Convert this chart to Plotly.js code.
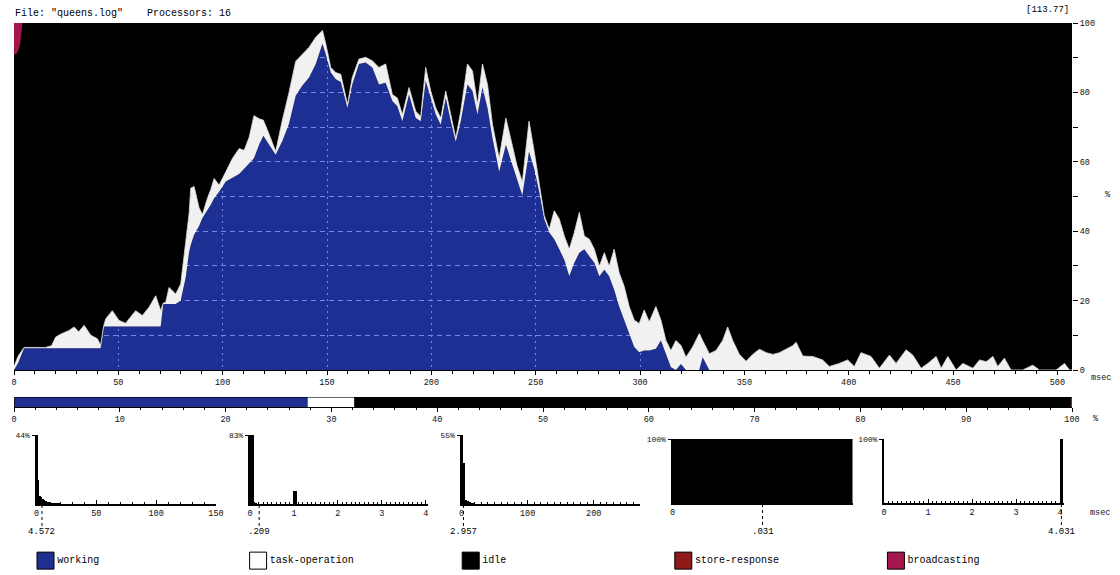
<!DOCTYPE html>
<html><head><meta charset="utf-8">
<script src="https://cdn.plot.ly/plotly-3.0.1.min.js"></script>
<style>html,body{margin:0;padding:0;background:#fff;}#chart{width:1120px;height:575px;}</style>
</head><body><div id="chart"></div>
<script>
// ---- main utilisation profile (msec, % of 16 processors) ----
const timeMs = [0,2,4.8,10,15,18,20,23,26.4,28.8,31,33.6,36.8,40,41.5,43,44,47.1,50.3,53.5,58.3,61.5,64.7,67.9,70.3,71.5,72.7,74.3,77.5,79.9,82.3,83.9,84.7,86.3,88.7,90.3,92.7,94.3,95.9,98.3,101.5,104.7,107.9,110.3,112.7,115,117.5,119.5,122.2,125.4,128.6,131.8,135,138.2,141.4,144.6,147.8,149.4,151.8,154.2,156.6,159.8,162.1,165.3,168.5,171.7,174.9,178.1,181.3,183.7,186.1,189.3,192.5,194.9,197.3,199.7,202.1,204.5,206.9,209.3,211.7,214.1,217.3,219.7,222.1,224.5,226.9,229.3,232.5,235.7,238.9,241,243.6,246.8,249.3,251.7,254.1,256.5,258.9,261.3,263.7,266.1,268.5,270.9,273.3,275.7,278.1,280.5,282.9,285.2,287.6,290,292.4,294.8,297.2,299.6,302,304.4,307.6,310,312.4,314.8,317.2,319.6,322,325.2,328.4,330,333.2,336.4,339.6,342,344.4,347.6,350.8,354,357.2,360.5,363.7,366.8,370,373.1,374.8,378,382.8,387.5,390.7,395.5,399.5,402.7,405.9,410.7,414.7,419.5,422.7,427.5,430.7,434.7,437.9,441.9,444.3,447.5,451.5,454.7,459.5,462.7,465.9,469.1,471.4,474.6,477.8,483.4,488.2,491.4,499.4,503.4,505.8,507];
const workingPct = [0,2,6.25,6.25,6.25,6.25,6.25,6.25,6.25,6.25,6.25,6.25,6.25,6.25,6.25,12.5,12.5,12.5,12.5,12.5,12.5,12.5,12.5,12.5,12.5,19,19,19,19,20,26.7,34,36,39,41.5,43.8,46,47.6,49.5,51.4,54.3,55.5,56.5,58,59.5,61,65,67.5,65,62,66,71,79,82,84.3,88.2,94,91,85.7,83.8,83,75.5,82.3,88.2,88.6,87.2,82.3,82.8,77.5,76,71.7,79.4,72.6,71.7,83.3,78.4,73.6,70.7,78.4,71.7,65.8,71.7,82.3,80.4,73.6,81.4,75.5,66.8,57.1,64.9,59,55,50.3,62.9,58,51.3,43.5,39.6,37.7,34.8,31.8,27,30.9,33.8,34.8,32.8,30.9,27,28.9,27,23.1,18.3,14.4,10.5,6.6,5.1,5.6,5.6,6.1,8.5,4.7,0.8,0,1.7,0,0,0,3.7,0,0,0,0,0,0,0,0,0,0,0,0,0,0,0,0,0,0,0,0,0,0,0,0,0,0,0,0,0,0,0,0,0,0,0,0,0,0,0,0,0,0,0,0,0,0,0,0,0,0];
const taskOpPct = [1,2,0.25,0.25,0.25,0.75,3.25,4.25,5.15,6.15,4.75,6.65,3.75,2.75,0.85,0.3,2.3,4.6,1.8,1,4.6,3.2,5.6,8.9,4.6,0.3,0.5,4.8,2.9,4.8,9.5,11,16.4,13.9,5.2,1,3.5,4.4,5.7,1.9,2.8,5.5,7.3,5.3,7.6,12.3,7.4,4.5,3,1,6,9,10,9,8.7,7.7,3.9,3,1.5,1.9,2.2,1,2,1.4,1.5,1.9,4.9,5.4,1.9,2.4,1.9,2,2,1.4,3.9,2,1.9,1.9,2,1.9,1,2.9,5.9,5.8,2.9,6.8,6.8,3.9,3.9,7.7,5.9,4,3.9,8.8,4.9,1.9,1,1,8.2,8.7,6.8,7.8,8.7,11.6,3.8,4.9,3.9,2.9,4.9,2.9,11.7,9.7,9.7,7.8,7.8,8.3,11.7,8.3,12.2,5.9,3.8,4.8,8.5,5.4,3.7,6.6,10.5,4.8,4.7,5.6,8.5,12.4,8.5,4.5,2.5,4.5,6,5,4.5,5,6,7,8,4,3.9,2.9,1,1.9,2.9,1,5,3.9,0.5,4.3,1.9,5.8,4.3,0.5,1.9,3.9,0.5,3.9,0,1.9,0.5,2.9,2.4,3.9,1,3.4,0,0,1.4,0,0,1.9,0,0];
const broadcastTimeMs = [0, 1, 2, 3, 4];
const broadcastPct = [9, 9, 8, 6, 0];

// ---- categories / overall share ----
const categories = ['working','task-operation','idle','store-response','broadcasting'];
const categoryColors = ['#1e2f91','#ffffff','#000000','#8e1a1a','#a3174c'];
const overallPct = [27.7, 4.5, 67.6, 0.1, 0.1];

// ---- duration histograms (msec bins, % of occurrences) ----
const histWorkingX = [0.6,1.8,3.0,4.2,5.4,6.6,7.8,9.0,10.2,11.4,12.6,13.8,15,16.2,17.4,18.6,19.8,21];
const histWorkingY = [44,15,5,4.5,3.5,2.5,2,1.5,1.2,1,0.8,0.7,0.6,0.5,0.5,0.4,0.4,0.3];
const histTaskX = [0.04,0.12,1.02,1.1];
const histTaskY = [83,1,16,0.5];
const histIdleX = [1.5,4.5,7.5,10.5,13.5,16.5,19.5];
const histIdleY = [55,33,3,2.5,1.5,1,0.5];
const histStoreX = [0.031];
const histStoreY = [100];
const histBcastX = [4.031];
const histBcastY = [100];
const histPeakLabels = [44, 83, 55, 100, 100];
const histMeanMs = [4.572, 0.209, 2.957, 0.031, 4.031];
const histTickVals = [[0,50,100,150],[0,1,2,3,4],[0,100,200],[0],[0,1,2,3,4]];

const mono = 'Liberation Mono, Courier New, monospace';
const W = 1120, H = 575;
const px = v => v / W;
const py = v => 1 - v / H;

const traces = [];
// main chart
traces.push({type:'scatter', mode:'lines', x:timeMs, y:workingPct, fill:'tozeroy',
  fillcolor:'rgba(46,71,225,0.66)', line:{width:0, color:'rgba(0,0,0,0)'}, xaxis:'x', yaxis:'y', hoverinfo:'skip'});
traces.push({type:'scatter', mode:'lines', x:timeMs, y:workingPct.map((w,i)=>w+taskOpPct[i]), fill:'tonexty',
  fillcolor:'#f1f1f1', line:{width:0.8, color:'#f1f1f1'}, xaxis:'x', yaxis:'y', hoverinfo:'skip'});
traces.push({type:'scatter', mode:'lines', x:timeMs, y:timeMs.map(()=>100), fill:'tonexty',
  fillcolor:'#000000', line:{width:0, color:'rgba(0,0,0,0)'}, xaxis:'x', yaxis:'y', hoverinfo:'skip'});
traces.push({type:'scatter', mode:'lines', x:broadcastTimeMs, y:broadcastPct.map(p=>100-p),
  line:{width:0, color:'rgba(0,0,0,0)'}, xaxis:'x', yaxis:'y', hoverinfo:'skip'});
traces.push({type:'scatter', mode:'lines', x:broadcastTimeMs, y:broadcastTimeMs.map(()=>100), fill:'tonexty',
  fillcolor:categoryColors[4], line:{width:0, color:'rgba(0,0,0,0)'}, xaxis:'x', yaxis:'y', hoverinfo:'skip'});

// overall percentage bar
categories.forEach((c,i)=>{
  traces.push({type:'bar', orientation:'h', y:[0], x:[overallPct[i]], width:1,
    marker:{color:categoryColors[i], line:{color:'#000', width:0.6}}, xaxis:'x2', yaxis:'y2', hoverinfo:'skip'});
});

// histograms
const histX = [histWorkingX, histTaskX, histIdleX, histStoreX, histBcastX];
const histY = [histWorkingY, histTaskY, histIdleY, histStoreY, histBcastY];
const histWidth = [1.2, 0.08, 3, 0.062, 0.08];
const histRange = [[0,150],[0,4.05],[0,270],[0,0.062],[0,4.09]];
const histDom = [[36.5,216],[250,428],[461.5,640],[672.5,852.5],[884,1064]];
const histMinor = [10, 0.1, 10, null, 0.1];
const histTop = [435,435,435,439,439];
const histBot = [504,504,504,503,503];
for (let k=0;k<5;k++){
  traces.push({type:'bar', x:histX[k], y:histY[k], width:histWidth[k],
    marker:{color:'#000', line:{width:0}}, xaxis:'x'+(3+k), yaxis:'y'+(3+k), hoverinfo:'skip'});
}

// legend swatches
traces.push({type:'scatter', mode:'markers+text', x:[0,1,2,3,4], y:[0,0,0,0,0],
  marker:{symbol:'square', size:17, color:categoryColors, line:{color:'#000', width:1}},
  text:categories, textposition:'middle right', textfont:{family:mono, size:10, color:'#000'},
  xaxis:'x8', yaxis:'y8', hoverinfo:'skip', cliponaxis:false});

const tickFont = {family:mono, size:8.5, color:'#111'};
const layout = {
  width:W, height:H, margin:{l:0,r:0,t:0,b:0}, paper_bgcolor:'#fff', plot_bgcolor:'rgba(0,0,0,0)',
  showlegend:false, barmode:'stack',
  xaxis:{domain:[px(14),px(1072)], range:[0,507], anchor:'y', dtick:50, tick0:0,
    ticks:'outside', ticklen:4, tickcolor:'#000', showline:true, linecolor:'#000', linewidth:1,
    showgrid:true, gridcolor:'#ffffff', gridwidth:1, griddash:'2px,4px', zeroline:false,
    minor:{dtick:10, ticks:'outside', ticklen:3, tickcolor:'#000', showgrid:false},
    tickfont:tickFont},
  yaxis:{domain:[py(370),py(23)], range:[0,100], side:'right', anchor:'x', dtick:20,
    ticks:'outside', ticklen:5, tickcolor:'#000', showline:false, zeroline:false,
    showgrid:true, gridcolor:'#ffffff', gridwidth:1, griddash:'5px,4px',
    minor:{dtick:10, ticks:'outside', ticklen:5, tickcolor:'#000', showgrid:true, gridcolor:'#ffffff', gridwidth:1, griddash:'5px,4px'},
    tickfont:tickFont},
  xaxis2:{domain:[px(14),px(1072)], range:[0,100], anchor:'y2', dtick:10,
    ticks:'outside', ticklen:4, tickcolor:'#000', showline:true, linecolor:'#000', showgrid:false, zeroline:false,
    minor:{dtick:2, ticks:'outside', ticklen:2, tickcolor:'#000'}, tickfont:tickFont},
  yaxis2:{domain:[py(407),py(397)], range:[-0.5,0.5], anchor:'x2', visible:false},
  xaxis8:{domain:[0,1], range:[-0.214,5.054], anchor:'y8', visible:false},
  yaxis8:{domain:[0,0.05], range:[-1,1], anchor:'x8', visible:false},
  shapes:[{type:'rect', xref:'x domain', yref:'y domain', x0:0, x1:1, y0:0, y1:1,
    fillcolor:'#000', line:{width:0}, layer:'below'}],
  annotations:[
    {xref:'paper', yref:'paper', x:px(13), y:py(13), xanchor:'left', yanchor:'middle', showarrow:false,
     text:'File: "queens.log"', font:{family:mono, size:10, color:'#000'}},
    {xref:'paper', yref:'paper', x:px(145), y:py(13), xanchor:'left', yanchor:'middle', showarrow:false,
     text:'Processors: 16', font:{family:mono, size:10, color:'#000'}},
    {xref:'paper', yref:'paper', x:px(1071), y:py(10), xanchor:'right', yanchor:'middle', showarrow:false,
     text:'[113.77]', font:{family:mono, size:9, color:'#000'}},
    {xref:'paper', yref:'paper', x:px(1108), y:py(195), xanchor:'center', yanchor:'middle', showarrow:false,
     text:'%', font:tickFont},
    {xref:'paper', yref:'paper', x:px(1101), y:py(378), xanchor:'center', yanchor:'middle', showarrow:false,
     text:'msec', font:tickFont},
    {xref:'paper', yref:'paper', x:px(1096), y:py(419), xanchor:'center', yanchor:'middle', showarrow:false,
     text:'%', font:tickFont},
    {xref:'paper', yref:'paper', x:px(1100), y:py(513), xanchor:'center', yanchor:'middle', showarrow:false,
     text:'msec', font:tickFont}
  ]
};

const fmtMean = v => String(v).replace(/^0\./,'.');
for (let k=0;k<5;k++){
  const xa = 'xaxis'+(3+k), ya = 'yaxis'+(3+k);
  const xa_ = {domain:[px(histDom[k][0]),px(histDom[k][1])], range:histRange[k], anchor:'y'+(3+k),
    tickvals:histTickVals[k], ticktext:histTickVals[k].map(String), ticks:'inside', ticklen:4, tickcolor:'#000',
    showline:true, linecolor:'#000', linewidth:1.5, showgrid:false, zeroline:false, tickfont:tickFont};
  if (histMinor[k]) xa_.minor = {dtick:histMinor[k], tick0:0, ticks:'inside', ticklen:2, tickcolor:'#000'};
  layout[xa] = xa_;
  layout[ya] = {domain:[py(histBot[k]),py(histTop[k])], range:[0,histPeakLabels[k]], anchor:'x'+(3+k),
    tickvals:[histPeakLabels[k]], ticktext:[histPeakLabels[k]+'%'], ticks:'outside', ticklen:3, tickcolor:'#000',
    showline:true, linecolor:'#000', linewidth:2, showgrid:false, zeroline:false,
    tickfont:{family:mono, size:8, color:'#111'}};
  layout.shapes.push({type:'line', xref:'x'+(3+k), yref:'paper', x0:histMeanMs[k], x1:histMeanMs[k],
    y0:py(histBot[k]+1), y1:py(526), line:{color:'#000', width:1, dash:'dot'}});
  layout.annotations.push({xref:'x'+(3+k), yref:'paper', x:histMeanMs[k], y:py(532), xanchor:'center', yanchor:'middle',
    showarrow:false, text:fmtMean(histMeanMs[k]), font:{family:mono, size:9, color:'#000'}});
}

Plotly.newPlot('chart', traces, layout, {staticPlot:true, displayModeBar:false});
</script></body></html>
